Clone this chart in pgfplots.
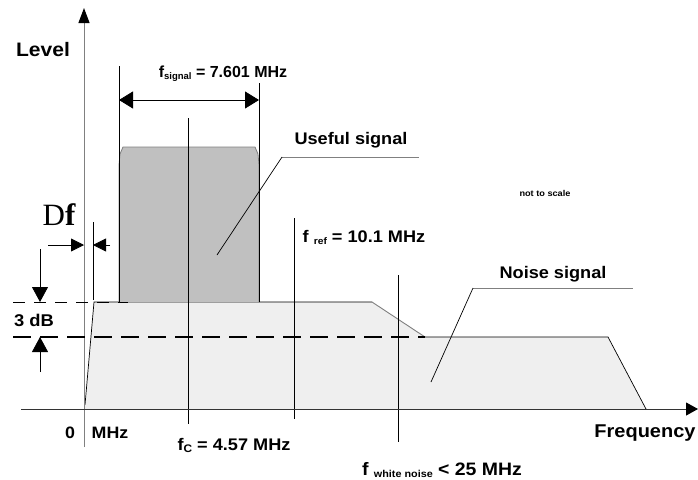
\documentclass[border=0pt]{standalone}
\usepackage{pgfplots}
\pgfplotsset{compat=1.18}
\usepackage{graphicx}
\usepackage{fontspec}
\setmainfont{Liberation Sans}
\newfontfamily\seriffont{Liberation Serif}
\usetikzlibrary{arrows.meta}
\newcommand{\fs}[1]{\fontsize{#1}{#1}\selectfont}
\newcommand{\sx}[1]{\scalebox{1.08}[1]{#1}}
\definecolor{noise}{HTML}{EFEFEF}
\definecolor{sig}{HTML}{C0C0C0}
\definecolor{edge}{HTML}{808080}
\begin{document}
\begin{tikzpicture}
\begin{axis}[width=698pt,height=479pt,scale only axis,xmin=0,xmax=698,ymin=0,ymax=479,
  y dir=reverse,hide axis,clip=false]
\coordinate (tl) at (axis cs:0,0);
\coordinate (br) at (axis cs:698,479);
% noise signal area
\addplot[fill=noise,draw=none] coordinates {(85,409)(94,302)(372,302)(425,337)(608,337)(646,409)} -- cycle;
\addplot[black,line width=0.7pt] coordinates {(85,405)(94,302)(372,302)};
\addplot[edge,line width=0.9pt] coordinates {(372,302)(425,337)};
\addplot[black,line width=0.7pt] coordinates {(425,337)(608,337)(646,409)};
% useful signal
\addplot[fill=sig,draw=edge,line width=0.8pt] coordinates {(119,302)(119,165)(120,154)(123,147)(255,147)(258,154)(259,165)(259,302)};
% vertical markers
\addplot[black,line width=0.7pt] coordinates {(119,66)(119,302)};
\addplot[black,line width=0.7pt] coordinates {(259,83)(259,302)};
\addplot[black,line width=0.7pt] coordinates {(188,118)(188,424)};
\addplot[black,line width=0.7pt] coordinates {(294,218)(294,419)};
\addplot[black,line width=0.7pt] coordinates {(398,275)(398,442)};
\addplot[black,line width=0.7pt] coordinates {(93,222)(93,300)};
% axes
\draw[edge,line width=1pt,-{Triangle[length=15pt,width=11pt,black]}] (axis cs:84,447) -- (axis cs:84,8);
\draw[black!80,line width=1pt,-{Triangle[length=12pt,width=13pt,black]}] (axis cs:21,409) -- (axis cs:698,409);
% dashed levels
\draw[black,line width=0.8pt,dash pattern=on 12pt off 9pt] (axis cs:13,302) -- (axis cs:128,302);
\draw[black,line width=2pt,dash pattern=on 18pt off 9pt] (axis cs:13,337) -- (axis cs:425,337);
% Df arrows
\draw[black,line width=0.8pt,-{Triangle[length=13pt,width=13pt]}] (axis cs:48,245) -- (axis cs:84,245);
\draw[black,line width=0.8pt,-{Triangle[length=13pt,width=13pt]}] (axis cs:110,245) -- (axis cs:93,245);
% 3 dB arrows
\draw[black,line width=0.8pt,-{Triangle[length=15pt,width=16pt]}] (axis cs:40,249) -- (axis cs:40,302);
\draw[black,line width=0.8pt,-{Triangle[length=15pt,width=16pt]}] (axis cs:40,372) -- (axis cs:40,337);
% signal bandwidth arrow
\draw[black,line width=0.8pt,{Triangle[length=14pt,width=17pt]}-{Triangle[length=14pt,width=17pt]}] (axis cs:119,100) -- (axis cs:259,100);
% leaders
\draw[edge,line width=1pt] (axis cs:282,157) -- (axis cs:419,157);
\draw[black,line width=0.7pt] (axis cs:282,157) -- (axis cs:217,255);
\draw[edge,line width=1pt] (axis cs:473,288) -- (axis cs:633,288);
\draw[black,line width=0.7pt] (axis cs:473,288) -- (axis cs:431,382);
% texts
\tikzset{lbl/.style={anchor=base,inner sep=0pt,font=\bfseries}}
\node[lbl] at (axis cs:43,56) {\fs{19.5}\sx{Level}};
\node[lbl] at (axis cs:59,225) {\seriffont\fs{31}\mdseries D\bfseries f};
\node[lbl] at (axis cs:34,326) {\fs{17}\sx{3 dB}};
\node[lbl] at (axis cs:70,438) {\fs{16.5}\sx{0}};
\node[lbl] at (axis cs:110,438) {\fs{16.5}\sx{MHz}};
\node[lbl] at (axis cs:223,77) {\fs{16}f\raisebox{-2.5pt}{\fs{9.5}signal} = 7.601 MHz};
\node[lbl] at (axis cs:351,144) {\fs{16.8}\sx{Useful signal}};
\node[lbl] at (axis cs:545,196) {\fs{8.5}\sx{not to scale}};
\node[lbl] at (axis cs:364,242) {\fs{16.8}\sx{f \raisebox{-2.5pt}{\fs{9.5}ref} = 10.1 MHz}};
\node[lbl] at (axis cs:553,278) {\fs{16.8}\sx{Noise signal}};
\node[lbl] at (axis cs:645,437) {\fs{18.5}\sx{Frequency}};
\node[lbl] at (axis cs:234,450) {\fs{16.8}\sx{f\raisebox{-2.5pt}{\fs{11}C} = 4.57 MHz}};
\node[lbl] at (axis cs:442,475) {\fs{18}\sx{f \raisebox{-2.5pt}{\fs{10}white noise} < 25 MHz}};
\end{axis}
\pgfresetboundingbox
\path (tl) rectangle (br);
\end{tikzpicture}
\end{document}
